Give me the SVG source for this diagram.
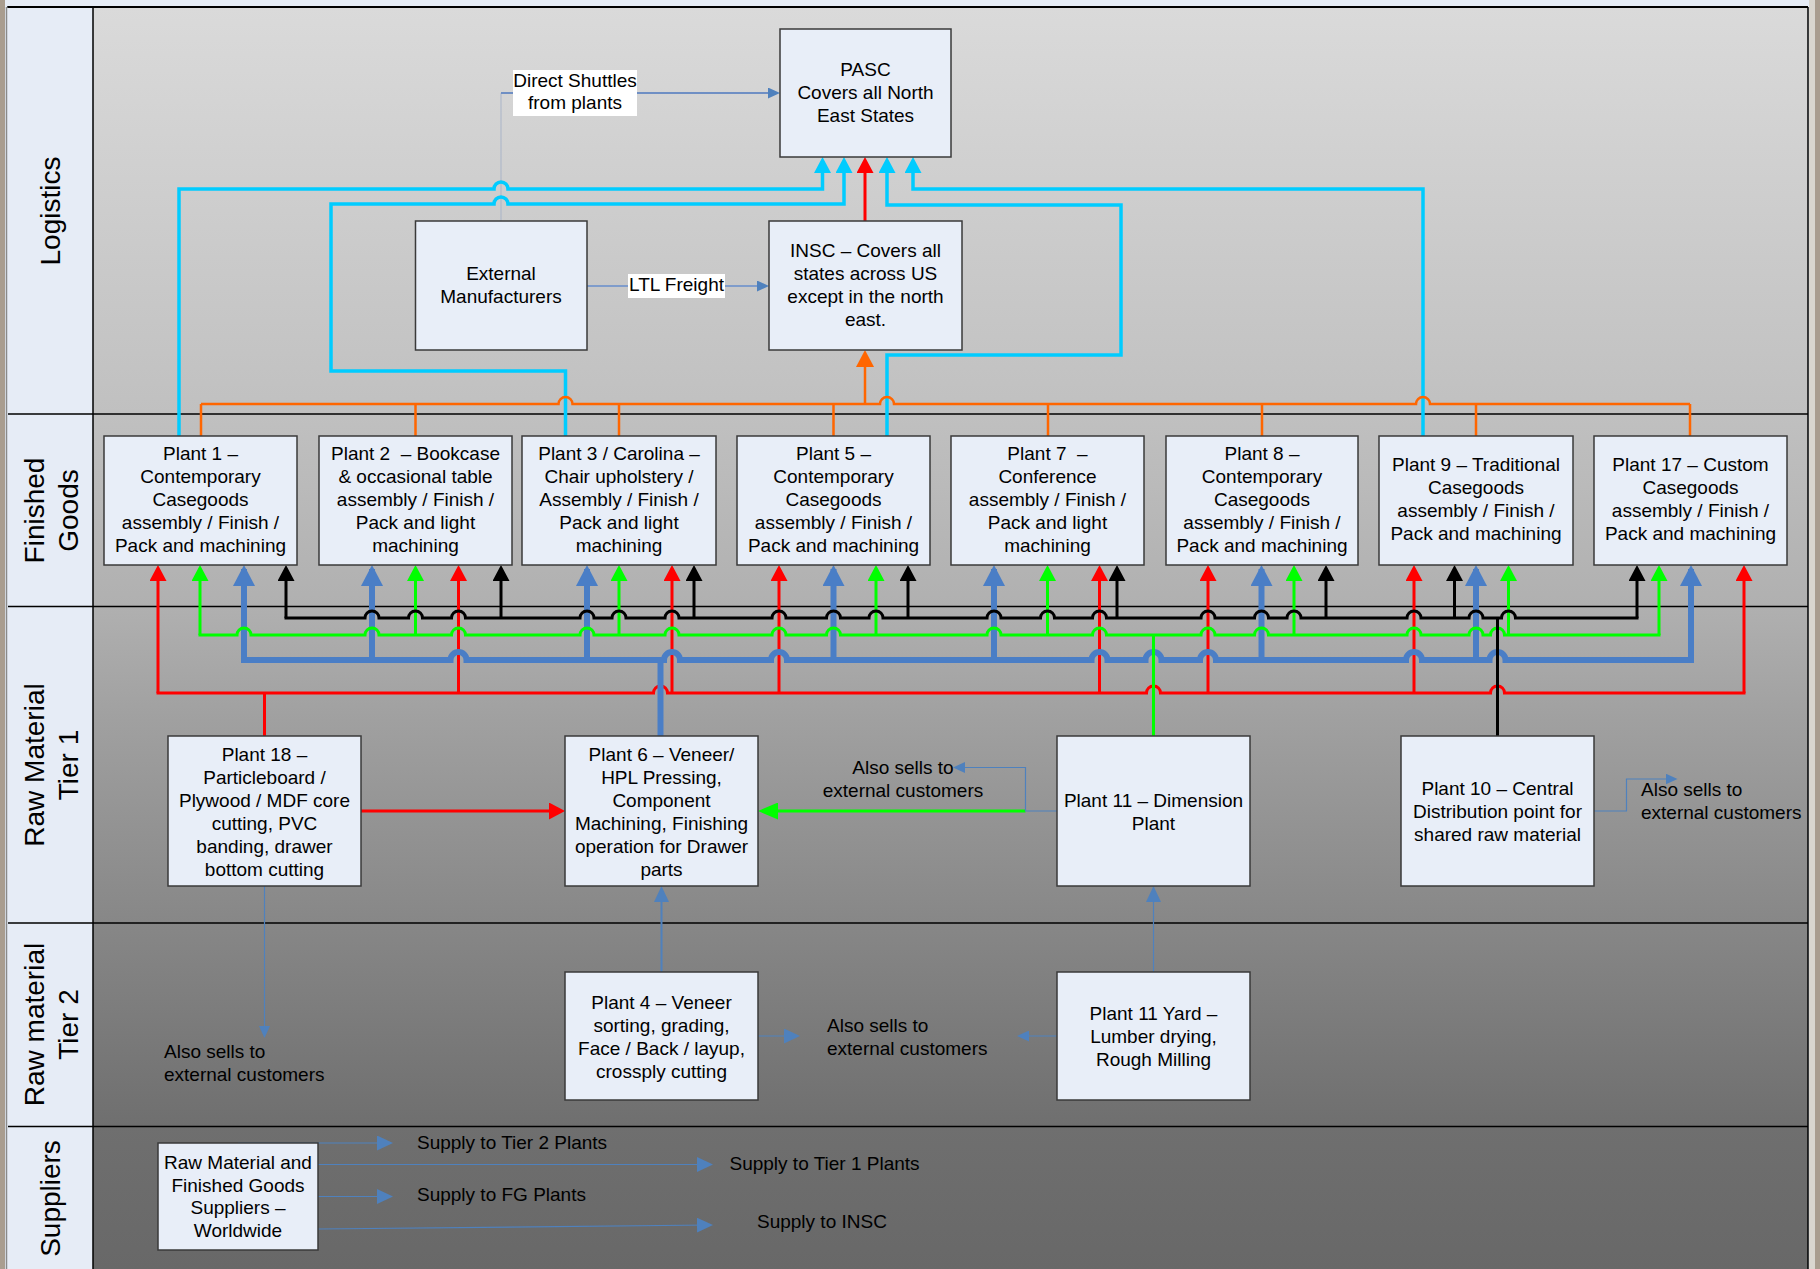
<svg xmlns="http://www.w3.org/2000/svg" width="1820" height="1269" viewBox="0 0 1820 1269">
<style>
.box{fill:#E8EEF8;stroke:#3A3A3A;stroke-width:1.5}
.t{font-family:"Liberation Sans",Arial,sans-serif;font-size:19px;fill:#000;text-anchor:middle}
.tl{font-family:"Liberation Sans",Arial,sans-serif;font-size:19px;fill:#000;text-anchor:start}
.lane{font-family:"Liberation Sans",Arial,sans-serif;font-size:28px;fill:#000;text-anchor:middle}
.frame{stroke:#000;stroke-width:1.5;fill:none}
.bk{stroke:#000;stroke-width:3;fill:none}
.gr{stroke:#00FF00;stroke-width:3;fill:none}
.bl{stroke:#4A7EC6;stroke-width:6;fill:none}
.rd{stroke:#FF0000;stroke-width:3;fill:none}
.cy{stroke:#00CCFF;stroke-width:3.5;fill:none}
.or{stroke:#FF6600;stroke-width:2.5;fill:none}
.thin{stroke:#4F81BD;stroke-width:1.2;fill:none}
.bus{stroke-linecap:square}
</style>
<defs>
<linearGradient id="bg" gradientUnits="userSpaceOnUse" x1="0" y1="7" x2="0" y2="1269">
<stop offset="0" stop-color="#DADADA"/>
<stop offset="0.3225" stop-color="#C0C0C0"/>
<stop offset="0.4747" stop-color="#B0B0B0"/>
<stop offset="0.565" stop-color="#A0A0A0"/>
<stop offset="0.7258" stop-color="#878787"/>
<stop offset="0.8867" stop-color="#6F6F6F"/>
<stop offset="1" stop-color="#686868"/>
</linearGradient>
<marker id="aR" markerUnits="userSpaceOnUse" markerWidth="16" markerHeight="17" refX="12" refY="8.5" orient="auto"><path d="M0,0 L16,8.5 L0,17 z" fill="#FF0000"/></marker>
<marker id="aG" markerUnits="userSpaceOnUse" markerWidth="16" markerHeight="17" refX="12" refY="8.5" orient="auto"><path d="M0,0 L16,8.5 L0,17 z" fill="#00FF00"/></marker>
<marker id="aK" markerUnits="userSpaceOnUse" markerWidth="16" markerHeight="17" refX="12" refY="8.5" orient="auto"><path d="M0,0 L16,8.5 L0,17 z" fill="#000"/></marker>
<marker id="aB" markerUnits="userSpaceOnUse" markerWidth="21" markerHeight="22" refX="17" refY="11" orient="auto"><path d="M0,0 L21,11 L0,22 z" fill="#4A7EC6"/></marker>
<marker id="aC" markerUnits="userSpaceOnUse" markerWidth="16" markerHeight="17" refX="12" refY="8.5" orient="auto"><path d="M0,0 L16,8.5 L0,17 z" fill="#00CCFF"/></marker>
<marker id="aO" markerUnits="userSpaceOnUse" markerWidth="17" markerHeight="18" refX="13" refY="9" orient="auto"><path d="M0,0 L17,9 L0,18 z" fill="#FF6600"/></marker>
<marker id="aGb" markerUnits="userSpaceOnUse" markerWidth="20" markerHeight="17" refX="16" refY="8.5" orient="auto"><path d="M0,0 L20,8.5 L0,17 z" fill="#00FF00"/></marker>
<marker id="aT" markerUnits="userSpaceOnUse" markerWidth="12" markerHeight="11" refX="8" refY="5.5" orient="auto"><path d="M0,0 L12,5.5 L0,11 z" fill="#4F81BD"/></marker>
<marker id="aTb" markerUnits="userSpaceOnUse" markerWidth="16" markerHeight="15" refX="12" refY="7.5" orient="auto"><path d="M0,0 L16,7.5 L0,15 z" fill="#4F81BD"/></marker>
</defs>

<g id="background">
<rect x="0" y="0" width="1820" height="1269" fill="#E6ECF6"/>
<rect x="8" y="7" width="1800" height="1262" fill="url(#bg)"/>
<rect x="8" y="7" width="85" height="1262" fill="#E6ECF6"/>
<rect x="0" y="0" width="5" height="1269" fill="#A99D8F"/>
<rect x="1809" y="0" width="6" height="1269" fill="#D9D6CF"/>
<rect x="1815" y="0" width="5" height="1269" fill="#A99D8F"/>
<path class="frame" d="M7,7 H1808 M1808,7 V1269 M93,7 V1269 M8,414 H1808 M8,606.5 H1808 M8,923 H1808 M8,1126.5 H1808" />
<path d="M6.5,7 V1269" stroke="#8A8A8A" stroke-width="1.5"/>
<path d="M8,7 H1808" stroke="#000" stroke-width="2"/>
</g>

<g id="lanes">
<text class="lane" transform="translate(60,211) rotate(-90)">Logistics</text>
<text class="lane" transform="translate(43.5,510.5) rotate(-90)">Finished</text>
<text class="lane" transform="translate(78,510.5) rotate(-90)">Goods</text>
<text class="lane" transform="translate(43.5,765) rotate(-90)">Raw Material</text>
<text class="lane" transform="translate(78,765) rotate(-90)">Tier 1</text>
<text class="lane" transform="translate(43.5,1024.5) rotate(-90)">Raw material</text>
<text class="lane" transform="translate(78,1024.5) rotate(-90)">Tier 2</text>
<text class="lane" transform="translate(60,1198.5) rotate(-90)">Suppliers</text>
</g>

<g id="connectors">
<path d="M501,221 V93" stroke="#A9B4C8" stroke-width="1" fill="none"/>
<path d="M501,93 H776" stroke="#6F8FC4" stroke-width="2" fill="none" marker-end="url(#aT)"/>
<path d="M587,286 H765" stroke="#7F9CCB" stroke-width="2" fill="none" marker-end="url(#aT)"/>
<path class="cy" d="M179,436 V189 H494 A7,7 0 0 1 508,189 H822.5 V161" marker-end="url(#aC)"/>
<path class="cy" d="M565.5,436 V371 H331 V204 H494 A7,7 0 0 1 508,204 H844 V161" marker-end="url(#aC)"/>
<path class="cy" d="M887,436 V355 H1121 V205 H887 V161" marker-end="url(#aC)"/>
<path class="cy" d="M1423,436 V189 H913 V161" marker-end="url(#aC)"/>
<path d="M865,221 V161" stroke="#FF0000" stroke-width="3" fill="none" marker-end="url(#aR)"/>
<path class="or" stroke-width="4" d="M201,404 H558.5 A7,7 0 0 1 572.5,404 H880 A7,7 0 0 1 894,404 H1416 A7,7 0 0 1 1430,404 H1690"/>
<path class="or" d="M201,404 V436 M415.5,404 V436 M619,404 V436 M833.5,404 V436 M1048,404 V436 M1262,404 V436 M1476,404 V436 M1690,404 V436"/>
<path class="or" stroke-width="3.5" d="M865,404 V354" marker-end="url(#aO)"/>

<path class="rd bus" d="M158,693 H653.5 A7,7 0 0 1 667.5,693 H1146.5 A7,7 0 0 1 1160.5,693 H1490.5 A7,7 0 0 1 1504.5,693 H1744"/>
<path class="rd" d="M158,693 V569" marker-end="url(#aR)"/>
<path class="rd" d="M458.5,693 V569" marker-end="url(#aR)"/>
<path class="rd" d="M672,693 V569" marker-end="url(#aR)"/>
<path class="rd" d="M779,693 V569" marker-end="url(#aR)"/>
<path class="rd" d="M1099.5,693 V569" marker-end="url(#aR)"/>
<path class="rd" d="M1208,693 V569" marker-end="url(#aR)"/>
<path class="rd" d="M1414,693 V569" marker-end="url(#aR)"/>
<path class="rd" d="M1744,693 V569" marker-end="url(#aR)"/>
<path class="rd" d="M264.5,693 V736"/>

<path class="bl bus" d="M244,660 H450.5 A8,8 0 0 1 466.5,660 H664 A8,8 0 0 1 680,660 H771 A8,8 0 0 1 787,660 H1091.5 A8,8 0 0 1 1107.5,660 H1145.5 A8,8 0 0 1 1161.5,660 H1200 A8,8 0 0 1 1216,660 H1406 A8,8 0 0 1 1422,660 H1489.5 A8,8 0 0 1 1505.5,660 H1691"/>
<path class="bl" d="M244,660 V569" marker-end="url(#aB)"/>
<path class="bl" d="M372,660 V569" marker-end="url(#aB)"/>
<path class="bl" d="M587,660 V569" marker-end="url(#aB)"/>
<path class="bl" d="M833.5,660 V569" marker-end="url(#aB)"/>
<path class="bl" d="M994,660 V569" marker-end="url(#aB)"/>
<path class="bl" d="M1261.5,660 V569" marker-end="url(#aB)"/>
<path class="bl" d="M1476,660 V569" marker-end="url(#aB)"/>
<path class="bl" d="M1691,660 V569" marker-end="url(#aB)"/>
<path class="bl" d="M660.5,660 V736"/>

<path class="gr bus" d="M200,635 H237 A7,7 0 0 1 251,635 H365 A7,7 0 0 1 379,635 H451.5 A7,7 0 0 1 465.5,635 H580 A7,7 0 0 1 594,635 H665 A7,7 0 0 1 679,635 H772 A7,7 0 0 1 786,635 H826.5 A7,7 0 0 1 840.5,635 H987 A7,7 0 0 1 1001,635 H1092.5 A7,7 0 0 1 1106.5,635 H1201 A7,7 0 0 1 1215,635 H1254.5 A7,7 0 0 1 1268.5,635 H1407 A7,7 0 0 1 1421,635 H1469 A7,7 0 0 1 1483,635 H1490.5 A7,7 0 0 1 1504.5,635 H1659"/>
<path class="gr" d="M200,635 V569" marker-end="url(#aG)"/>
<path class="gr" d="M415.5,635 V569" marker-end="url(#aG)"/>
<path class="gr" d="M619,635 V569" marker-end="url(#aG)"/>
<path class="gr" d="M876,635 V569" marker-end="url(#aG)"/>
<path class="gr" d="M1047.5,635 V569" marker-end="url(#aG)"/>
<path class="gr" d="M1294,635 V569" marker-end="url(#aG)"/>
<path class="gr" d="M1508.5,635 V569" marker-end="url(#aG)"/>
<path class="gr" d="M1659,635 V569" marker-end="url(#aG)"/>
<path class="gr" d="M1153.5,635 V736"/>

<path class="bk bus" d="M286,618 H365 A7,7 0 0 1 379,618 H408.5 A7,7 0 0 1 422.5,618 H451.5 A7,7 0 0 1 465.5,618 H580 A7,7 0 0 1 594,618 H612 A7,7 0 0 1 626,618 H665 A7,7 0 0 1 679,618 H772 A7,7 0 0 1 786,618 H826.5 A7,7 0 0 1 840.5,618 H869 A7,7 0 0 1 883,618 H987 A7,7 0 0 1 1001,618 H1040.5 A7,7 0 0 1 1054.5,618 H1092.5 A7,7 0 0 1 1106.5,618 H1201 A7,7 0 0 1 1215,618 H1254.5 A7,7 0 0 1 1268.5,618 H1287 A7,7 0 0 1 1301,618 H1407 A7,7 0 0 1 1421,618 H1469 A7,7 0 0 1 1483,618 H1501.5 A7,7 0 0 1 1515.5,618 H1637"/>
<path class="bk" d="M286,618 V569" marker-end="url(#aK)"/>
<path class="bk" d="M501,618 V569" marker-end="url(#aK)"/>
<path class="bk" d="M694,618 V569" marker-end="url(#aK)"/>
<path class="bk" d="M908,618 V569" marker-end="url(#aK)"/>
<path class="bk" d="M1117,618 V569" marker-end="url(#aK)"/>
<path class="bk" d="M1326,618 V569" marker-end="url(#aK)"/>
<path class="bk" d="M1454.5,618 V569" marker-end="url(#aK)"/>
<path class="bk" d="M1637,618 V569" marker-end="url(#aK)"/>
<path class="bk" d="M1497.5,618 V736"/>

<path class="rd" d="M361,811 H561" marker-end="url(#aR)"/>
<path class="gr" d="M1025.5,811 H762" marker-end="url(#aGb)"/>
<path class="thin" d="M1057,811 H1025.5 V767.5 H957" marker-end="url(#aT)"/>
<path class="thin" d="M1594,811 H1626.5 V779 H1673.5" marker-end="url(#aT)"/>
<path d="M661.5,972 V890" stroke="#4F81BD" stroke-width="2" fill="none" marker-end="url(#aTb)"/>
<path class="thin" stroke-width="1.5" d="M1153.5,972 V890" marker-end="url(#aTb)"/>
<path class="thin" d="M758,1036 H796" marker-end="url(#aTb)"/>
<path class="thin" d="M1057,1036 H1021" marker-end="url(#aT)"/>
<path class="thin" d="M264.5,886 V1034" marker-end="url(#aT)"/>

<path class="thin" d="M238,1143 H389" marker-end="url(#aTb)"/>
<path class="thin" d="M318,1164.5 H709" marker-end="url(#aTb)"/>
<path class="thin" d="M318,1196.5 H389" marker-end="url(#aTb)"/>
<path class="thin" d="M318,1229 L709,1225" marker-end="url(#aTb)"/>
</g>

<g id="label-direct-shuttles">
<rect x="513" y="70" width="124" height="46" fill="#fff"/>
<text class="t"><tspan x="575" y="87">Direct Shuttles</tspan><tspan x="575" y="109">from plants</tspan></text>
</g>
<g id="label-ltl">
<rect x="628" y="274" width="97" height="24" fill="#fff"/>
<text class="t" x="676.5" y="291">LTL Freight</text>
</g>

<g id="pasc">
<rect class="box" x="780" y="29" width="171" height="128"/>
<text class="t"><tspan x="865.5" y="75.5">PASC</tspan><tspan x="865.5" y="99">Covers all North</tspan><tspan x="865.5" y="122">East States</tspan></text>
</g>
<g id="external-manufacturers">
<rect class="box" x="415.5" y="221" width="171.5" height="129"/>
<text class="t"><tspan x="501" y="280">External</tspan><tspan x="501" y="303">Manufacturers</tspan></text>
</g>
<g id="insc">
<rect class="box" x="769" y="221" width="193" height="129"/>
<text class="t"><tspan x="865.5" y="257">INSC – Covers all</tspan><tspan x="865.5" y="280">states across US</tspan><tspan x="865.5" y="303">except in the north</tspan><tspan x="865.5" y="326">east.</tspan></text>
</g>

<g id="plant1">
<rect class="box" x="104" y="436" width="193" height="129"/>
<text class="t"><tspan x="200.5" y="460">Plant 1 –</tspan><tspan x="200.5" y="483">Contemporary</tspan><tspan x="200.5" y="506">Casegoods</tspan><tspan x="200.5" y="529">assembly / Finish /</tspan><tspan x="200.5" y="552">Pack and machining</tspan></text>
</g>
<g id="plant2">
<rect class="box" x="319" y="436" width="193" height="129"/>
<text class="t" xml:space="preserve"><tspan x="415.5" y="460">Plant 2  – Bookcase</tspan><tspan x="415.5" y="483">&amp; occasional table</tspan><tspan x="415.5" y="506">assembly / Finish /</tspan><tspan x="415.5" y="529">Pack and light</tspan><tspan x="415.5" y="552">machining</tspan></text>
</g>
<g id="plant3">
<rect class="box" x="522" y="436" width="194" height="129"/>
<text class="t"><tspan x="619" y="460">Plant 3 / Carolina –</tspan><tspan x="619" y="483">Chair upholstery /</tspan><tspan x="619" y="506">Assembly / Finish /</tspan><tspan x="619" y="529">Pack and light</tspan><tspan x="619" y="552">machining</tspan></text>
</g>
<g id="plant5">
<rect class="box" x="737" y="436" width="193" height="129"/>
<text class="t"><tspan x="833.5" y="460">Plant 5 –</tspan><tspan x="833.5" y="483">Contemporary</tspan><tspan x="833.5" y="506">Casegoods</tspan><tspan x="833.5" y="529">assembly / Finish /</tspan><tspan x="833.5" y="552">Pack and machining</tspan></text>
</g>
<g id="plant7">
<rect class="box" x="951" y="436" width="193" height="129"/>
<text class="t" xml:space="preserve"><tspan x="1047.5" y="460">Plant 7  –</tspan><tspan x="1047.5" y="483">Conference</tspan><tspan x="1047.5" y="506">assembly / Finish /</tspan><tspan x="1047.5" y="529">Pack and light</tspan><tspan x="1047.5" y="552">machining</tspan></text>
</g>
<g id="plant8">
<rect class="box" x="1166" y="436" width="192" height="129"/>
<text class="t"><tspan x="1262" y="460">Plant 8 –</tspan><tspan x="1262" y="483">Contemporary</tspan><tspan x="1262" y="506">Casegoods</tspan><tspan x="1262" y="529">assembly / Finish /</tspan><tspan x="1262" y="552">Pack and machining</tspan></text>
</g>
<g id="plant9">
<rect class="box" x="1379" y="436" width="194" height="129"/>
<text class="t"><tspan x="1476" y="471">Plant 9 – Traditional</tspan><tspan x="1476" y="494">Casegoods</tspan><tspan x="1476" y="517">assembly / Finish /</tspan><tspan x="1476" y="540">Pack and machining</tspan></text>
</g>
<g id="plant17">
<rect class="box" x="1594" y="436" width="193" height="129"/>
<text class="t"><tspan x="1690.5" y="471">Plant 17 – Custom</tspan><tspan x="1690.5" y="494">Casegoods</tspan><tspan x="1690.5" y="517">assembly / Finish /</tspan><tspan x="1690.5" y="540">Pack and machining</tspan></text>
</g>

<g id="plant18">
<rect class="box" x="168" y="736" width="193" height="150"/>
<text class="t"><tspan x="264.5" y="761">Plant 18 –</tspan><tspan x="264.5" y="784">Particleboard /</tspan><tspan x="264.5" y="807">Plywood / MDF core</tspan><tspan x="264.5" y="830">cutting, PVC</tspan><tspan x="264.5" y="853">banding, drawer</tspan><tspan x="264.5" y="876">bottom cutting</tspan></text>
</g>
<g id="plant6">
<rect class="box" x="565" y="736" width="193" height="150"/>
<text class="t"><tspan x="661.5" y="761">Plant 6 – Veneer/</tspan><tspan x="661.5" y="784">HPL Pressing,</tspan><tspan x="661.5" y="807">Component</tspan><tspan x="661.5" y="830">Machining, Finishing</tspan><tspan x="661.5" y="853">operation for Drawer</tspan><tspan x="661.5" y="876">parts</tspan></text>
</g>
<g id="plant11">
<rect class="box" x="1057" y="736" width="193" height="150"/>
<text class="t"><tspan x="1153.5" y="807">Plant 11 – Dimension</tspan><tspan x="1153.5" y="830">Plant</tspan></text>
</g>
<g id="plant10">
<rect class="box" x="1401" y="736" width="193" height="150"/>
<text class="t"><tspan x="1497.5" y="795">Plant 10 – Central</tspan><tspan x="1497.5" y="818">Distribution point for</tspan><tspan x="1497.5" y="841">shared raw material</tspan></text>
</g>
<g id="plant4">
<rect class="box" x="565" y="972" width="193" height="128"/>
<text class="t"><tspan x="661.5" y="1009">Plant 4 – Veneer</tspan><tspan x="661.5" y="1032">sorting, grading,</tspan><tspan x="661.5" y="1055">Face / Back / layup,</tspan><tspan x="661.5" y="1078">crossply cutting</tspan></text>
</g>
<g id="plant11-yard">
<rect class="box" x="1057" y="972" width="193" height="128"/>
<text class="t"><tspan x="1153.5" y="1020">Plant 11 Yard –</tspan><tspan x="1153.5" y="1043">Lumber drying,</tspan><tspan x="1153.5" y="1066">Rough Milling</tspan></text>
</g>
<g id="suppliers">
<rect class="box" x="158" y="1143" width="160" height="107"/>
<text class="t"><tspan x="238" y="1169">Raw Material and</tspan><tspan x="238" y="1191.5">Finished Goods</tspan><tspan x="238" y="1214">Suppliers –</tspan><tspan x="238" y="1236.5">Worldwide</tspan></text>
</g>

<g id="notes">
<text class="t"><tspan x="903" y="774">Also sells to</tspan><tspan x="903" y="797">external customers</tspan></text>
<text class="tl"><tspan x="1641" y="796">Also sells to</tspan><tspan x="1641" y="819">external customers</tspan></text>
<text class="tl"><tspan x="827" y="1032">Also sells to</tspan><tspan x="827" y="1055">external customers</tspan></text>
<text class="tl"><tspan x="164" y="1058">Also sells to</tspan><tspan x="164" y="1081">external customers</tspan></text>
<text class="tl" x="417" y="1148.5">Supply to Tier 2 Plants</text>
<text class="tl" x="729.5" y="1169.5">Supply to Tier 1 Plants</text>
<text class="tl" x="417" y="1201">Supply to FG Plants</text>
<text class="tl" x="757" y="1228">Supply to INSC</text>
</g>
</svg>
